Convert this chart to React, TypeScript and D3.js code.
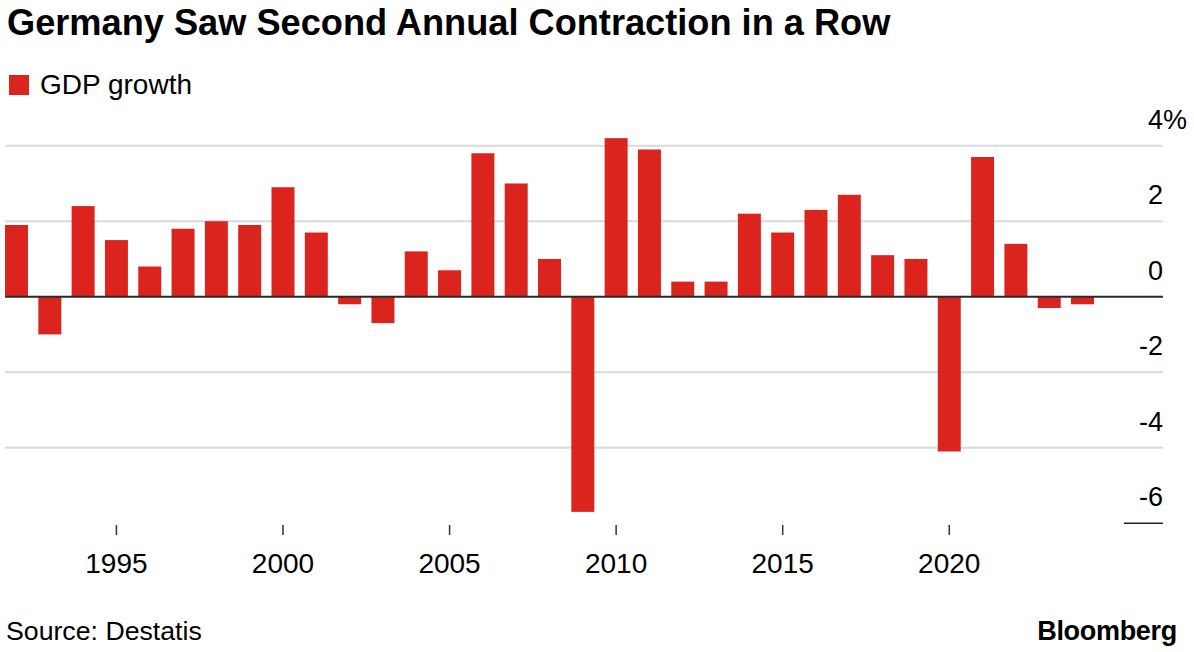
import React from "react";
import * as d3 from "d3";

const WIDTH = 1194;
const HEIGHT = 652;
const RED = "#dc241f";
const FONT = "'Liberation Sans', Arial, sans-serif";

// GDP growth, %
const years = d3.range(1992, 2025);
const growth = [
  1.9, -1.0, 2.4, 1.5, 0.8, 1.8, 2.0, 1.9, 2.9, 1.7,
  -0.2, -0.7, 1.2, 0.7, 3.8, 3.0, 1.0, -5.7, 4.2, 3.9,
  0.4, 0.4, 2.2, 1.7, 2.3, 2.7, 1.1, 1.0, -4.1, 3.7,
  1.4, -0.3, -0.2,
];
const yTicks = [4, 2, 0, -2, -4, -6];
const xTicks = [1995, 2000, 2005, 2010, 2015, 2020];

const title = "Germany Saw Second Annual Contraction in a Row";
const legendLabel = "GDP growth";
const source = "Source: Destatis";

export default function App() {
  const x = d3
    .scaleBand<number>()
    .domain(years)
    .range([5, 1094])
    .paddingInner(0.31)
    .paddingOuter(0);

  const y = d3.scaleLinear().domain([-6, 4]).range([523.2, 145.7]);

  const gridLeft = 5;
  const gridRight = 1163;

  return (
    <svg
      width={WIDTH}
      height={HEIGHT}
      style={{ position: "absolute", left: 0, top: 0, background: "#fff" }}
      fontFamily={FONT}
    >
      <text x={7} y={35} fontSize={36.2} fontWeight="bold" fill="#000">
        {title}
      </text>

      {/* legend */}
      <rect x={9} y={75} width={20} height={20} fill={RED} />
      <text x={40} y={94} fontSize={28} fill="#000">
        {legendLabel}
      </text>

      {/* grid lines */}
      {yTicks
        .filter((t) => t !== 0 && t !== -6)
        .map((t) => (
          <line
            key={t}
            x1={gridLeft}
            x2={gridRight}
            y1={y(t)}
            y2={y(t)}
            stroke="#d9d9d9"
            strokeWidth={2}
          />
        ))}
      <line
        x1={1124}
        x2={gridRight}
        y1={y(-6)}
        y2={y(-6)}
        stroke="#222"
        strokeWidth={1.5}
      />

      {/* y labels */}
      {yTicks.map((t) => (
        <g key={t}>
          <text
            x={gridRight}
            y={y(t) - 17}
            fontSize={27}
            textAnchor="end"
            fill="#000"
          >
            {t}
          </text>
          {t === 4 && (
            <text x={gridRight} y={y(t) - 17} fontSize={27} fill="#000">
              %
            </text>
          )}
        </g>
      ))}

      {/* bars */}
      {years.map((yr, i) => {
        const v = growth[i];
        return (
          <rect
            key={yr}
            x={x(yr)}
            width={x.bandwidth()}
            y={Math.min(y(v), y(0))}
            height={Math.abs(y(v) - y(0))}
            fill={RED}
          />
        );
      })}

      {/* zero line */}
      <line
        x1={gridLeft}
        x2={gridRight}
        y1={y(0)}
        y2={y(0)}
        stroke="#2a2a2a"
        strokeWidth={2}
      />

      {/* x axis */}
      {xTicks.map((t) => {
        const cx = (x(t) as number) + x.bandwidth() / 2;
        return (
          <g key={t}>
            <line x1={cx} x2={cx} y1={525} y2={535} stroke="#333" strokeWidth={1.5} />
            <text x={cx} y={573} fontSize={28} textAnchor="middle" fill="#000">
              {t}
            </text>
          </g>
        );
      })}

      <text x={6} y={640} fontSize={26.7} fill="#000">
        {source}
      </text>
      <text
        x={1177}
        y={640}
        fontSize={27}
        fontWeight="bold"
        textAnchor="end"
        letterSpacing={-0.3}
        fill="#000"
      >
        Bloomberg
      </text>
    </svg>
  );
}
